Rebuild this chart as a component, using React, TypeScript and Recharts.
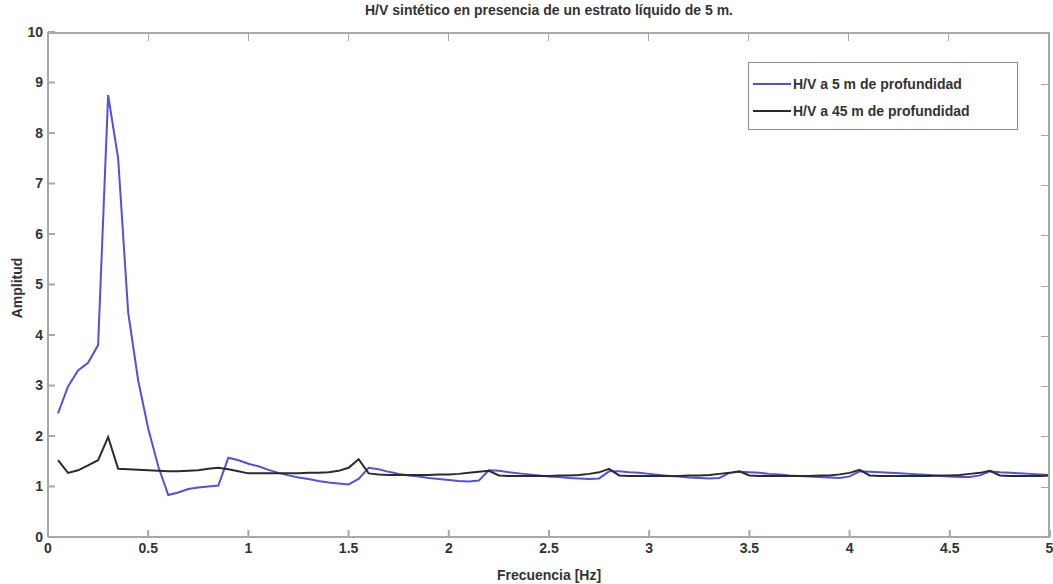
import React from 'react';
import { LineChart, Line, XAxis, YAxis } from 'recharts';

// frequency samples [Hz]
const frecuencias = [
  0.05, 0.1, 0.15, 0.2, 0.25, 0.3, 0.35, 0.4, 0.45, 0.5,
  0.55, 0.6, 0.65, 0.7, 0.75, 0.8, 0.85, 0.9, 0.95, 1.0,
  1.05, 1.1, 1.15, 1.2, 1.25, 1.3, 1.35, 1.4, 1.45, 1.5,
  1.55, 1.6, 1.65, 1.7, 1.75, 1.8, 1.85, 1.9, 1.95, 2.0,
  2.05, 2.1, 2.15, 2.2, 2.25, 2.3, 2.35, 2.4, 2.45, 2.5,
  2.55, 2.6, 2.65, 2.7, 2.75, 2.8, 2.85, 2.9, 2.95, 3.0,
  3.05, 3.1, 3.15, 3.2, 3.25, 3.3, 3.35, 3.4, 3.45, 3.5,
  3.55, 3.6, 3.65, 3.7, 3.75, 3.8, 3.85, 3.9, 3.95, 4.0,
  4.05, 4.1, 4.15, 4.2, 4.25, 4.3, 4.35, 4.4, 4.45, 4.5,
  4.55, 4.6, 4.65, 4.7, 4.75, 4.8, 4.85, 4.9, 4.95, 5.0,
];

// H/V at 5 m depth
const hv5m = [
  2.45, 2.98, 3.3, 3.45, 3.8, 8.75, 7.5, 4.45, 3.1, 2.15,
  1.4, 0.83, 0.88, 0.95, 0.98, 1.0, 1.02, 1.57, 1.52, 1.45,
  1.4, 1.33, 1.27, 1.22, 1.18, 1.15, 1.11, 1.08, 1.06, 1.04,
  1.15, 1.37, 1.34, 1.29, 1.25, 1.22, 1.2, 1.17, 1.15, 1.13,
  1.11, 1.1, 1.12, 1.32, 1.31, 1.28, 1.26, 1.24, 1.22, 1.2,
  1.19, 1.17, 1.16, 1.15, 1.16, 1.3, 1.3, 1.28, 1.27, 1.25,
  1.23, 1.21, 1.2, 1.18, 1.17, 1.16, 1.17, 1.27, 1.29, 1.28,
  1.27, 1.25, 1.24, 1.22, 1.21, 1.2, 1.19, 1.18, 1.17, 1.2,
  1.3, 1.29, 1.28, 1.27, 1.26, 1.25, 1.24, 1.23, 1.21, 1.2,
  1.19, 1.19, 1.22, 1.3, 1.28, 1.27, 1.26, 1.25, 1.24, 1.23,
];

// H/V at 45 m depth
const hv45m = [
  1.52, 1.27, 1.32, 1.42, 1.52, 1.98, 1.35, 1.34, 1.33, 1.32,
  1.31, 1.3, 1.3, 1.31, 1.32, 1.35, 1.37, 1.34, 1.3, 1.26,
  1.26, 1.26, 1.26, 1.26, 1.26, 1.27, 1.27, 1.28, 1.31, 1.37,
  1.54, 1.26, 1.24, 1.23, 1.23, 1.23, 1.23, 1.23, 1.24, 1.24,
  1.25, 1.27, 1.29, 1.31, 1.22, 1.21, 1.21, 1.21, 1.21, 1.21,
  1.22, 1.22, 1.23, 1.25, 1.28, 1.35, 1.22, 1.21, 1.21, 1.21,
  1.21, 1.21, 1.21, 1.22, 1.22, 1.23, 1.25, 1.27, 1.3, 1.22,
  1.21, 1.21, 1.21, 1.21, 1.21, 1.21, 1.22, 1.22, 1.24, 1.27,
  1.33, 1.22, 1.21, 1.21, 1.21, 1.21, 1.21, 1.21, 1.22, 1.22,
  1.23, 1.25, 1.27, 1.31, 1.22, 1.21, 1.21, 1.21, 1.21, 1.22,
];

const xTicks = [0, 0.5, 1, 1.5, 2, 2.5, 3, 3.5, 4, 4.5, 5];
const yTicks = [0, 1, 2, 3, 4, 5, 6, 7, 8, 9, 10];
const X_MAX = 5;
const Y_MAX = 10;

const data = frecuencias.map((f, i) => ({ f, hv5: hv5m[i], hv45: hv45m[i] }));

const FONT = '"Liberation Sans", Arial, sans-serif';
const AXIS = '#a8a8a8';
const TEXT = '#333';
const BLUE = '#5151dd';
const BLACK = '#2b2b2b';

// chart box and plot offsets
const W = 1053;
const H = 584;
const MARGIN = { top: 32, right: 3, bottom: 17, left: 8 };
const Y_AXIS_W = 40;
const X_AXIS_H = 30;
const PLOT = {
  left: MARGIN.left + Y_AXIS_W,
  top: MARGIN.top,
  width: W - MARGIN.left - Y_AXIS_W - MARGIN.right,
  height: H - MARGIN.top - MARGIN.bottom - X_AXIS_H,
};

const series = [
  { key: 'hv5', name: 'H/V a 5 m de profundidad', color: BLUE },
  { key: 'hv45', name: 'H/V a 45 m de profundidad', color: BLACK },
];

const textStyle: React.CSSProperties = {
  position: 'absolute',
  fontFamily: FONT,
  fontWeight: 'bold',
  fontSize: 14,
  color: TEXT,
  whiteSpace: 'nowrap',
};

// top and right edges of the box, with inward ticks
function Frame() {
  return (
    <div
      style={{
        position: 'absolute',
        ...PLOT,
        borderTop: `2px solid ${AXIS}`,
        borderRight: `2px solid ${AXIS}`,
        boxSizing: 'border-box',
        pointerEvents: 'none',
      }}
    >
      {xTicks.slice(1, -1).map((t) => (
        <div
          key={`x${t}`}
          style={{ position: 'absolute', top: 0, left: `${(t / X_MAX) * 100}%`, width: 1, height: 7, background: AXIS }}
        />
      ))}
      {yTicks.slice(1, -1).map((t) => (
        <div
          key={`y${t}`}
          style={{ position: 'absolute', right: 0, top: `${(1 - t / Y_MAX) * 100}%`, width: 7, height: 1, background: AXIS }}
        />
      ))}
    </div>
  );
}

function LegendBox() {
  return (
    <div
      style={{
        ...textStyle,
        left: 748,
        top: 62,
        width: 270,
        height: 68,
        border: '1px solid #8c8c8c',
        background: '#fff',
        padding: '7px 0 0 4px',
        boxSizing: 'border-box',
      }}
    >
      {series.map((s) => (
        <div key={s.key} style={{ display: 'flex', alignItems: 'center', height: 27 }}>
          <span style={{ display: 'inline-block', width: 38, height: 2, background: s.color, marginRight: 2 }} />
          <span>{s.name}</span>
        </div>
      ))}
    </div>
  );
}

export default function App() {
  const tickStyle = { fill: TEXT, fontSize: 14, fontWeight: 'bold', fontFamily: FONT };
  return (
    <div style={{ position: 'absolute', left: 0, top: 0, width: W, height: H, background: '#fff' }}>
      <LineChart width={W} height={H} data={data} margin={MARGIN}>
        <XAxis
          dataKey="f"
          type="number"
          domain={[0, X_MAX]}
          ticks={xTicks}
          height={X_AXIS_H}
          tickSize={-7}
          tickMargin={13}
          stroke={AXIS}
          strokeWidth={2}
          tick={tickStyle}
        />
        <YAxis
          type="number"
          domain={[0, Y_MAX]}
          ticks={yTicks}
          width={Y_AXIS_W}
          tickSize={-7}
          tickMargin={12}
          stroke={AXIS}
          strokeWidth={2}
          tick={tickStyle}
        />
        {series.map((s) => (
          <Line
            key={s.key}
            type="linear"
            dataKey={s.key}
            name={s.name}
            stroke={s.color}
            strokeWidth={2}
            dot={false}
            isAnimationActive={false}
          />
        ))}
      </LineChart>
      <Frame />
      <div style={{ ...textStyle, top: 2, left: PLOT.left, width: PLOT.width, textAlign: 'center' }}>
        H/V sintético en presencia de un estrato líquido de 5 m.
      </div>
      <div style={{ ...textStyle, top: 567, left: PLOT.left, width: PLOT.width, textAlign: 'center' }}>
        Frecuencia [Hz]
      </div>
      <div style={{ ...textStyle, left: 17, top: 288, transform: 'translate(-50%, -50%) rotate(-90deg)' }}>
        Amplitud
      </div>
      <LegendBox />
    </div>
  );
}
